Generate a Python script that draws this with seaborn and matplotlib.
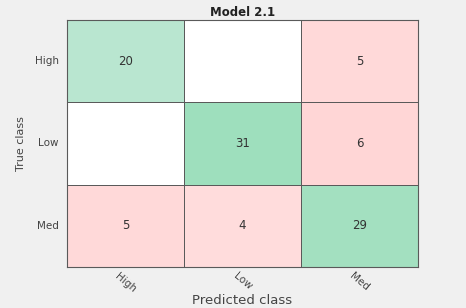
import numpy as np
import pandas as pd
import seaborn as sns
import matplotlib.pyplot as plt
from matplotlib.colors import LinearSegmentedColormap

classes = ["High", "Low", "Med"]
row_high = [20, 0, 5]
row_low = [0, 31, 6]
row_med = [5, 4, 29]

cm = pd.DataFrame([row_high, row_low, row_med], index=classes, columns=classes)
vals = cm.values
diag = np.eye(len(classes), dtype=bool)

sns.set_style("white")
plt.rcParams['font.family'] = ['DejaVu Sans']

fig = plt.figure(figsize=(4.66, 3.08), dpi=100, facecolor='#f0f0f0')
ax = fig.add_axes([67/466, 1-267/308, (418-67)/466, (267-20)/308])

green = LinearSegmentedColormap.from_list('g', ['#b9e6d0', '#9edfbd'])
pink = LinearSegmentedColormap.from_list('p', ['#ffdcdc', '#ffd6d6'])
white = LinearSegmentedColormap.from_list('w', ['#ffffff', '#ffffff'])

annot_kw = dict(fontsize=8.5, color='#333333')
lw = 0.5
lc = '#5a5a5a'
sns.heatmap(cm, mask=~(diag & (vals > 0)), cmap=green, vmin=20, vmax=31, annot=True, fmt='d',
            annot_kws=annot_kw, cbar=False, linewidths=lw, linecolor=lc, ax=ax)
sns.heatmap(cm, mask=~(~diag & (vals > 0)), cmap=pink, vmin=4, vmax=6, annot=True, fmt='d',
            annot_kws=annot_kw, cbar=False, linewidths=lw, linecolor=lc, ax=ax)
sns.heatmap(cm, mask=~(vals == 0), cmap=white, vmin=0, vmax=1, annot=False,
            cbar=False, linewidths=lw, linecolor=lc, ax=ax)

for s in ax.spines.values():
    s.set_visible(True)
    s.set_color(lc)
    s.set_linewidth(0.8)

ax.set_title("Model 2.1", fontsize=8.5, fontweight='bold', color='#222222', pad=3)
ax.set_xlabel("Predicted class", fontsize=9.5, color='#444444', labelpad=0)
ax.set_ylabel("True class", fontsize=8, color='#444444', labelpad=6)
ax.set_xticklabels(classes, rotation=-40, ha='center', fontsize=7.5, color='#444444')
ax.set_yticklabels(classes, rotation=0, fontsize=7.5, color='#444444')
ax.tick_params(axis='x', length=0, pad=3)
ax.tick_params(axis='y', length=0, pad=6)

fig.savefig("out.png", dpi=100, facecolor=fig.get_facecolor())
